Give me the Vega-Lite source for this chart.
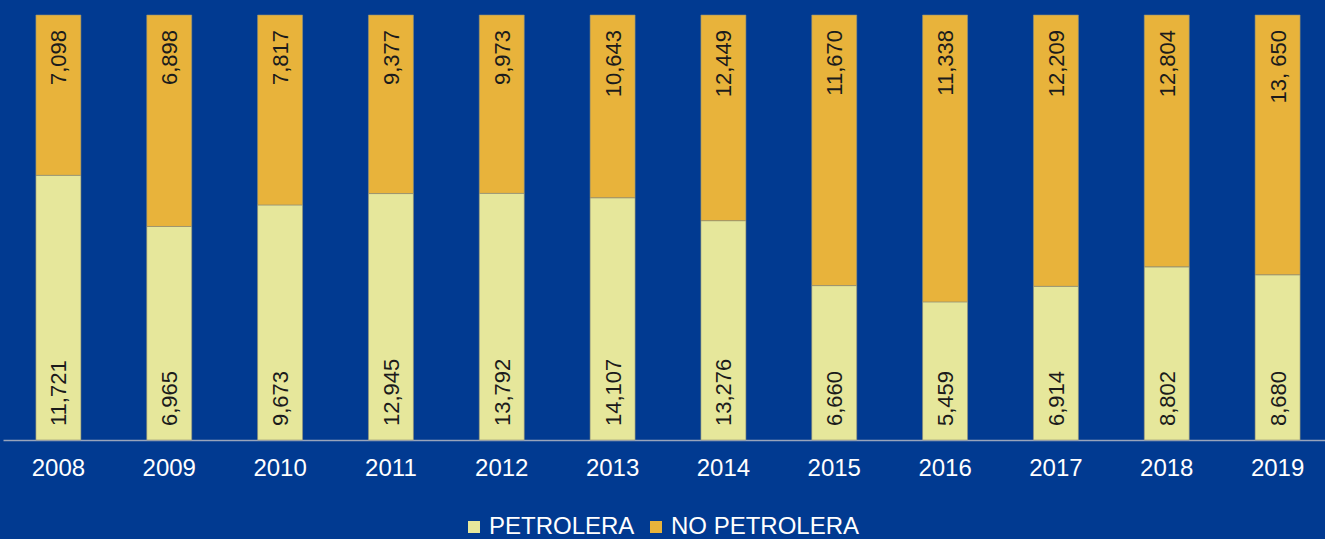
{
  "$schema": "https://vega.github.io/schema/vega-lite/v6.json",
  "width": 1322,
  "height": 425,
  "autosize": {"type": "none"},
  "padding": {"left": 3, "top": 15, "right": 0, "bottom": 99},
  "background": "#013A91",
  "config": {"view": {"stroke": null}, "font": "Liberation Sans"},
  "data": {
    "values": [
      {"year": "2008", "serie": "PETROLERA", "value": 11721, "label": "11,721"},
      {"year": "2009", "serie": "PETROLERA", "value": 6965, "label": "6,965"},
      {"year": "2010", "serie": "PETROLERA", "value": 9673, "label": "9,673"},
      {"year": "2011", "serie": "PETROLERA", "value": 12945, "label": "12,945"},
      {"year": "2012", "serie": "PETROLERA", "value": 13792, "label": "13,792"},
      {"year": "2013", "serie": "PETROLERA", "value": 14107, "label": "14,107"},
      {"year": "2014", "serie": "PETROLERA", "value": 13276, "label": "13,276"},
      {"year": "2015", "serie": "PETROLERA", "value": 6660, "label": "6,660"},
      {"year": "2016", "serie": "PETROLERA", "value": 5459, "label": "5,459"},
      {"year": "2017", "serie": "PETROLERA", "value": 6914, "label": "6,914"},
      {"year": "2018", "serie": "PETROLERA", "value": 8802, "label": "8,802"},
      {"year": "2019", "serie": "PETROLERA", "value": 8680, "label": "8,680"},
      {"year": "2008", "serie": "NO PETROLERA", "value": 7098, "label": "7,098"},
      {"year": "2009", "serie": "NO PETROLERA", "value": 6898, "label": "6,898"},
      {"year": "2010", "serie": "NO PETROLERA", "value": 7817, "label": "7,817"},
      {"year": "2011", "serie": "NO PETROLERA", "value": 9377, "label": "9,377"},
      {"year": "2012", "serie": "NO PETROLERA", "value": 9973, "label": "9,973"},
      {"year": "2013", "serie": "NO PETROLERA", "value": 10643, "label": "10,643"},
      {"year": "2014", "serie": "NO PETROLERA", "value": 12449, "label": "12,449"},
      {"year": "2015", "serie": "NO PETROLERA", "value": 11670, "label": "11,670"},
      {"year": "2016", "serie": "NO PETROLERA", "value": 11338, "label": "11,338"},
      {"year": "2017", "serie": "NO PETROLERA", "value": 12209, "label": "12,209"},
      {"year": "2018", "serie": "NO PETROLERA", "value": 12804, "label": "12,804"},
      {"year": "2019", "serie": "NO PETROLERA", "value": 13650, "label": "13, 650"}
    ]
  },
  "transform": [
    {"stack": "value", "groupby": ["year"], "sort": [{"field": "serie", "order": "descending"}], "offset": "normalize", "as": ["y0", "y1"]}
  ],
  "encoding": {
    "x": {
      "field": "year",
      "type": "ordinal",
      "scale": {"range": [0, 1330], "paddingInner": 0.594, "paddingOuter": 0.297},
      "axis": {
        "title": null,
        "ticks": false,
        "grid": false,
        "labelAngle": 0,
        "labelColor": "#FFFFFF",
        "labelFontSize": 24,
        "labelPadding": 16,
        "domainColor": "#98A4BC",
        "domainWidth": 1.5
      }
    }
  },
  "layer": [
    {
      "mark": {"type": "bar", "stroke": "#8E8E78", "strokeWidth": 0.6},
      "encoding": {
        "y": {"field": "y0", "type": "quantitative", "scale": {"domain": [0, 1], "nice": false}, "axis": null},
        "y2": {"field": "y1"},
        "color": {
          "field": "serie",
          "type": "nominal",
          "scale": {"domain": ["PETROLERA", "NO PETROLERA"], "range": ["#E6E79B", "#E8B33B"]},
          "legend": {
            "title": null,
            "orient": "none",
            "legendX": 459,
            "legendY": 500,
            "direction": "horizontal",
            "symbolType": "square",
            "symbolSize": 144,
            "symbolStrokeWidth": 0,
            "labelFontSize": 24,
            "labelColor": "#FFFFFF",
            "labelOffset": 3,
            "labelLimit": 400,
            "columnPadding": 9,
            "padding": 0
          }
        }
      }
    },
    {
      "transform": [{"filter": "datum.serie === 'PETROLERA'"}],
      "mark": {"type": "text", "angle": 270, "align": "left", "baseline": "middle", "dx": 14, "dy": 1, "fontSize": 22, "color": "#1B1B1B"},
      "encoding": {
        "y": {"field": "y0", "type": "quantitative"},
        "text": {"field": "label"}
      }
    },
    {
      "transform": [{"filter": "datum.serie === 'NO PETROLERA'"}],
      "mark": {"type": "text", "angle": 270, "align": "right", "baseline": "middle", "dx": -15, "dy": 1, "fontSize": 22, "color": "#1B1B1B"},
      "encoding": {
        "y": {"field": "y1", "type": "quantitative"},
        "text": {"field": "label"}
      }
    }
  ]
}
